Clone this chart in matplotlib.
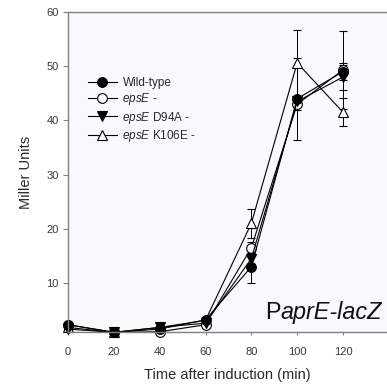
import matplotlib
matplotlib.use("Agg")
import matplotlib.pyplot as plt
from matplotlib.lines import Line2D
import numpy as np

plt.rcParams['font.family'] = ['Liberation Sans', 'DejaVu Sans']
plt.rcParams['mathtext.fontset'] = 'custom'
plt.rcParams['mathtext.rm'] = 'Liberation Sans'
plt.rcParams['mathtext.it'] = 'Liberation Sans:italic'

time_min = [0, 20, 40, 60, 80, 100, 120]

wt = [2.3, 0.9, 1.5, 3.2, 13.0, 44.0, 49.0]
wt_err = [0.3, 0.2, 0.3, 0.3, 3.0, 7.6, 1.5]

epse = [2.3, 0.9, 1.0, 2.3, 16.5, 43.0, 49.3]
epse_err = [0.3, 0.2, 0.3, 0.3, 1.0, 1.0, 7.2]

d94a = [1.5, 0.9, 1.8, 2.6, 14.5, 43.5, 48.0]
d94a_err = [0.3, 0.2, 0.3, 0.3, 1.0, 1.0, 2.3]

k106e = [1.8, 0.9, 1.8, 3.1, 21.0, 50.6, 41.5]
k106e_err = [0.3, 0.2, 0.3, 0.3, 2.7, 6.1, 2.6]

labels = ['Wild-type', r'$\it{epsE}$ -', r'$\it{epsE}$ D94A -', r'$\it{epsE}$ K106E -']

x_ticks = [0, 20, 40, 60, 80, 100, 120]
y_ticks = [10, 20, 30, 40, 50, 60]

W, H = 387, 389
fig = plt.figure(figsize=(W / 100, H / 100), dpi=100)
ax = fig.add_axes([68 / W, (H - 332) / H, (W - 68) / W, 320 / H])
ax.set_facecolor('#f8f9fc')

series = [
    (k106e, k106e_err, '^', 'white', labels[3]),
    (epse, epse_err, 'o', 'white', labels[1]),
    (d94a, d94a_err, 'v', 'black', labels[2]),
    (wt, wt_err, 'o', 'black', labels[0]),
]
handles = {}
for vals, errs, mk, fc, lab in series:
    ax.errorbar(time_min, vals, yerr=errs, color='black', lw=0.8,
                marker=mk, markersize=7, markerfacecolor=fc,
                markeredgecolor='black', markeredgewidth=0.8,
                capsize=3.2, elinewidth=0.7, capthick=0.7,
                clip_on=False)
    handles[lab] = Line2D([], [], color='black', lw=0.8, marker=mk,
                          markersize=7, markerfacecolor=fc,
                          markeredgecolor='black', markeredgewidth=0.8)

ax.set_xlim(0, 139.2)
ax.set_ylim(0.96, 60)
ax.set_xticks(x_ticks)
ax.set_yticks(y_ticks)

for s in ['top', 'left', 'bottom']:
    ax.spines[s].set_color('#808080')
    ax.spines[s].set_linewidth(1.0)
ax.spines['right'].set_visible(False)

ax.tick_params(axis='x', length=2, width=0.8, color='#808080', pad=9,
               labelsize=8, labelcolor='#3a3a3a')
ax.tick_params(axis='y', length=3.6, width=0.8, color='#808080', pad=3,
               labelsize=8, labelcolor='#3a3a3a')

ax.set_xlabel('Time after induction (min)', fontsize=10.5, color='#2a2a2a', labelpad=8)
ax.set_ylabel('Miller Units', fontsize=10.5, color='#2a2a2a', labelpad=10)

leg = ax.legend([handles[l] for l in labels], labels, loc='upper left',
                bbox_to_anchor=(0.045, 0.816), frameon=False, fontsize=8.5,
                handlelength=2.4, handletextpad=0.5, labelspacing=0.2,
                borderpad=0)
for t in leg.get_texts():
    t.set_color('#2a2a2a')

t1 = ax.text((265 - 68) / 319, (332 - 319) / 320, 'P',
             transform=ax.transAxes, fontsize=16.8, color='#111111',
             ha='left', va='baseline')
ax.annotate('aprE-lacZ', xy=(1, 0), xycoords=t1, xytext=(0, 0),
            textcoords='offset points', fontsize=16.8, style='italic',
            color='#111111', ha='left', va='bottom')

fig.savefig('out.png', dpi=100, facecolor='white')
